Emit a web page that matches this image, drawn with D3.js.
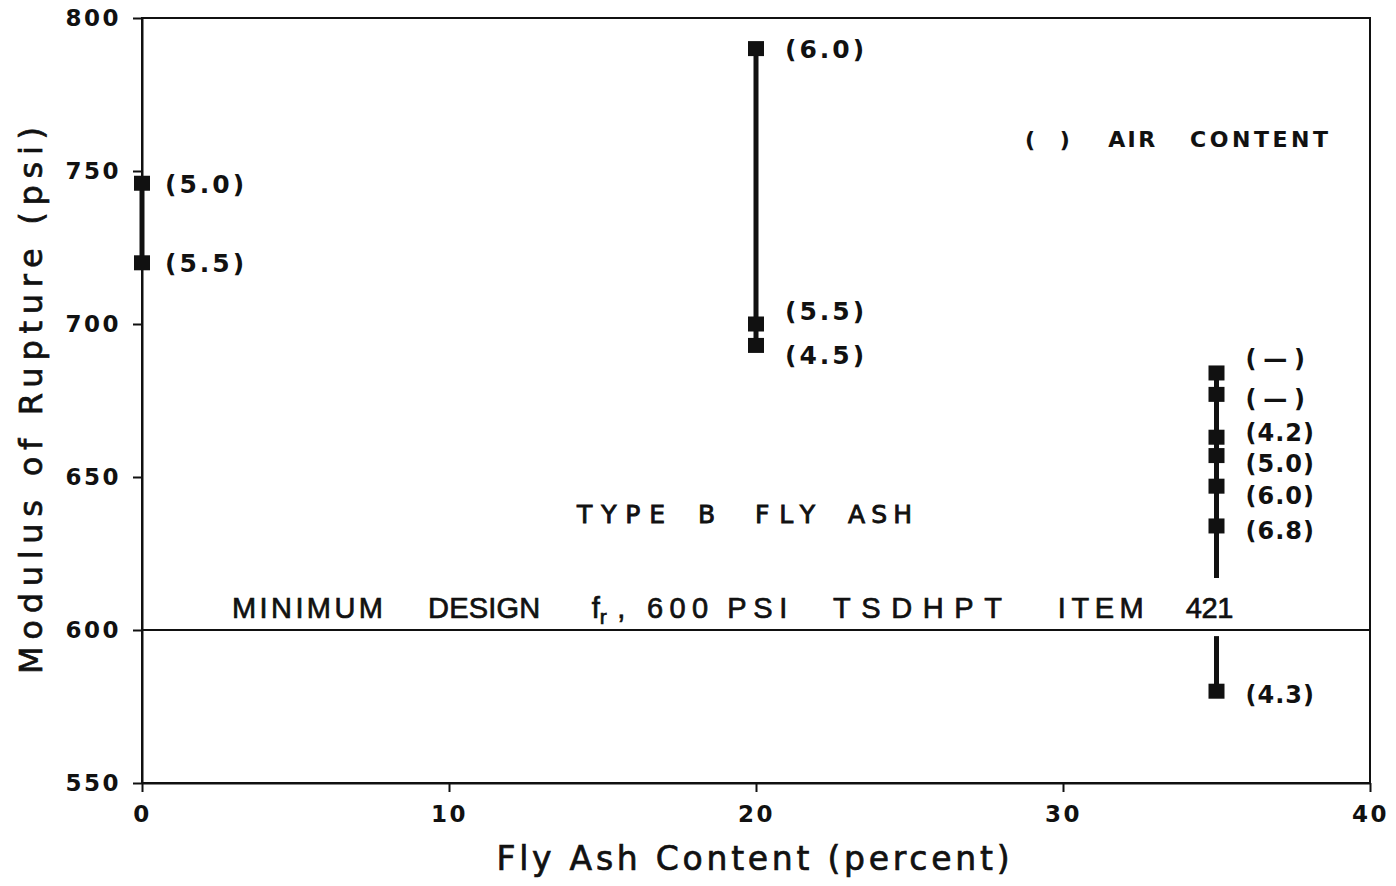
<!DOCTYPE html>
<html>
<head>
<meta charset="utf-8">
<script src="https://cdn.jsdelivr.net/npm/d3@7"></script>
<style>
  body { margin: 0; background: #fff; }
  svg { display: block; }
  text { fill: #111; }
</style>
</head>
<body>
<svg id="chart" width="1396" height="886"></svg>
<script>
// Flexural strength (modulus of rupture) of mixes by fly ash content
const flyAshPct   = [0, 0, 20, 20, 20, 35, 35, 35, 35, 35, 35, 35];
const modulusPsi  = [746, 720, 790, 700, 693, 684, 677, 663, 657, 647, 634, 580];
const airContent  = ["(5.0)", "(5.5)", "(6.0)", "(5.5)", "(4.5)", "(\u2009—\u2009)", "(\u2009—\u2009)", "(4.2)", "(5.0)", "(6.0)", "(6.8)", "(4.3)"];
const xTickValues = [0, 10, 20, 30, 40];
const yTickValues = [550, 600, 650, 700, 750, 800];
const minDesignPsi = 600;
// band of the range line left open where the design-limit caption runs
const captionGap = [598, 617];

const xTitle = "Fly Ash Content (percent)";
const yTitle = "Modulus of Rupture (psi)";

// caption words: [text, start, end] in fly-ash percent
const typeWords = [["TYPE", 14.17, 17.04], ["B", 18.11, 18.76], ["FLY", 19.97, 21.92], ["ASH", 23.0, 25.08]];
const limitWords = [["MINIMUM", 2.93, 7.85], ["DESIGN", 9.32, 12.97], [",", 15.48, 15.68],
                    ["600", 16.45, 18.44], ["PSI", 19.06, 21.02], ["TSDHPT", 22.51, 28.01],
                    ["ITEM", 29.83, 32.63], ["421", 34.0, 35.55]];
const airWords = [["( )", 28.76, 30.22], ["AIR", 31.47, 33.0], ["CONTENT", 34.14, 38.63]];

const svg = d3.select("#chart");
const W = 1396, H = 886;
const margin = { left: 142, right: 26, top: 18, bottom: 103 };

const x = d3.scaleLinear().domain([0, 40]).range([margin.left, W - margin.right]);
const y = d3.scaleLinear().domain([550, 800]).range([H - margin.bottom, margin.top]);

const points = flyAshPct.map((v, i) => ({ x: v, y: modulusPsi[i], label: airContent[i], i }));

// label placement relative to its square
const labelDy = [1, 0, 0, -13, 10, -15, 4, -5, 8, 9, 4, 3];
const labelDx = { 0: 23, 20: 29, 35: 29 };
const labelSize = { 0: 25, 20: 25, 35: 24 };
const labelSpacing = { 0: 3, 20: 3, 35: 1 };

const SANS = "'DejaVu Sans', sans-serif";

// frame
svg.append("rect")
  .attr("x", x(0)).attr("y", y(800))
  .attr("width", x(40) - x(0)).attr("height", y(550) - y(800))
  .attr("fill", "none").attr("stroke", "#111").attr("stroke-width", 2);

// axes
const yAxis = svg.append("g")
  .attr("transform", `translate(${x(0)},0)`)
  .call(d3.axisLeft(y).tickValues(yTickValues).tickSize(9).tickSizeOuter(0).tickPadding(12));
const xAxis = svg.append("g")
  .attr("transform", `translate(0,${y(550)})`)
  .call(d3.axisBottom(x).tickValues(xTickValues).tickSize(9).tickSizeOuter(0).tickPadding(14));
[xAxis, yAxis].forEach(a => {
  a.select(".domain").attr("stroke", "#111").attr("stroke-width", 2);
  a.selectAll(".tick line").attr("stroke", "#111").attr("stroke-width", 2);
  a.selectAll(".tick text")
    .attr("fill", "#111")
    .style("font-family", SANS)
    .style("font-weight", "bold")
    .style("font-size", "23px")
    .style("letter-spacing", "2.5px");
});

// axis titles
svg.append("text")
  .attr("x", (x(0) + x(40)) / 2 - 3).attr("y", 870)
  .attr("text-anchor", "middle")
  .attr("textLength", 513).attr("lengthAdjust", "spacing")
  .style("font-family", SANS)
  .style("font-size", "33px")
  .style("stroke", "#111").style("stroke-width", 0.7)
  .text(xTitle);

svg.append("text")
  .attr("transform", `translate(42,${y(675)}) rotate(-90)`)
  .attr("text-anchor", "middle")
  .attr("textLength", 547).attr("lengthAdjust", "spacing")
  .style("font-family", SANS)
  .style("font-size", "32px")
  .style("stroke", "#111").style("stroke-width", 0.7)
  .text(yTitle);

// range line for each fly ash content
const groups = d3.groups(points, d => d.x).map(([k, pts]) => ({ x: k, ext: d3.extent(pts, p => p.y) }));
groups.forEach(g => {
  const segs = [];
  if (g.ext[0] < captionGap[0] && g.ext[1] > captionGap[1]) {
    segs.push([g.ext[0], captionGap[0]], [captionGap[1], g.ext[1]]);
  } else {
    segs.push(g.ext);
  }
  segs.forEach(s => {
    svg.append("line")
      .attr("x1", x(g.x)).attr("x2", x(g.x))
      .attr("y1", y(s[0])).attr("y2", y(s[1]))
      .attr("stroke", "#111").attr("stroke-width", 5);
  });
});

// minimum design reference line
svg.append("line")
  .attr("x1", x(0)).attr("x2", x(40))
  .attr("y1", y(minDesignPsi)).attr("y2", y(minDesignPsi))
  .attr("stroke", "#111").attr("stroke-width", 2);

// square markers
svg.selectAll("rect.pt").data(points).join("rect")
  .attr("class", "pt")
  .attr("x", d => x(d.x) - 8).attr("y", d => y(d.y) - 7.5)
  .attr("width", 16).attr("height", 15)
  .attr("fill", "#111");

// air content labels
svg.selectAll("text.lbl").data(points).join("text")
  .attr("class", "lbl")
  .attr("x", d => x(d.x) + labelDx[d.x])
  .attr("y", d => y(d.y) + labelDy[d.i])
  .attr("dy", "0.36em")
  .style("font-family", SANS)
  .style("font-weight", "bold")
  .style("font-size", d => labelSize[d.x] + "px")
  .style("letter-spacing", d => labelSpacing[d.x] + "px")
  .style("white-space", "pre")
  .text(d => d.label);

// captions
function words(list, yVal, family, size, weight, extra) {
  const g = svg.append("g");
  list.forEach(([t, a, b]) => {
    const el = g.append("text")
      .attr("x", x(a)).attr("y", y(yVal))
      .style("font-family", family)
      .style("font-size", size + "px")
      .style("font-weight", weight)
      .style("white-space", "pre")
      .style("stroke", "#111").style("stroke-width", extra)
      .text(t);
    if (t.length > 1) el.attr("textLength", x(b) - x(a)).attr("lengthAdjust", "spacing");
  });
  return g;
}
const NARROW = "'Liberation Sans Narrow', 'Liberation Sans', Arial, sans-serif";
words(typeWords, 635, SANS, 25, "normal", 0.9);
words(airWords, 758, SANS, 22, "bold", 0.1);
words(limitWords, 604, NARROW, 29, "normal", 0.7);

// f with subscript r
const fr = svg.append("text")
  .attr("x", x(14.65)).attr("y", y(604))
  .style("font-family", NARROW)
  .style("font-size", "29px")
  .style("stroke", "#111").style("stroke-width", 0.7);
fr.append("tspan").text("f");
fr.append("tspan").attr("dy", 6).style("font-size", "21px").text("r");
</script>
</body>
</html>
